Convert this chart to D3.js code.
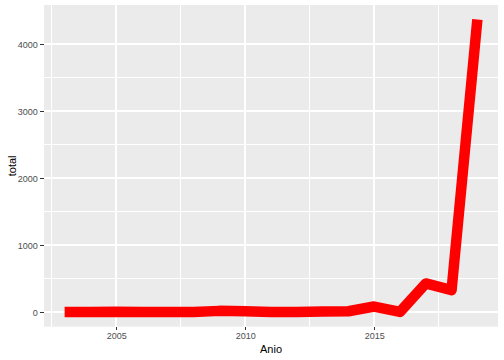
<!DOCTYPE html>
<html>
<head>
<meta charset="utf-8">
<script src="https://cdn.jsdelivr.net/npm/d3@7"></script>
<style>
  html, body { margin: 0; padding: 0; background: #ffffff; }
  svg { display: block; }
</style>
</head>
<body>
<svg id="chart" width="504" height="360"></svg>
<script>
// Data
const years  = [2003, 2004, 2005, 2006, 2007, 2008, 2009, 2010, 2011, 2012, 2013, 2014, 2015, 2016, 2017, 2018, 2019];
const totals = [2, 3, 8, 3, 4, 4, 20, 15, 3, 2, 12, 14, 85, 5, 430, 330, 4370];
const xTicks = [2005, 2010, 2015];
const xMinor = [2002.5, 2007.5, 2012.5, 2017.5];
const yTicks = [0, 1000, 2000, 3000, 4000];
const yMinor = [500, 1500, 2500, 3500];
const xTitle = "Anio";
const yTitle = "total";

const svg = d3.select("#chart");
const pLeft = 44, pRight = 498, pTop = 5, pBottom = 326.7;

const xMin = d3.min(years), xMax = d3.max(years);
const xPad = (xMax - xMin) * 0.05;
const x = d3.scaleLinear().domain([xMin - xPad, xMax + xPad]).range([pLeft, pRight]);

const yMin = d3.min(totals), yMax = d3.max(totals);
const yPad = (yMax - yMin) * 0.05;
const y = d3.scaleLinear().domain([yMin - yPad, yMax + yPad]).range([pBottom, pTop]);

// panel
svg.append("rect").attr("x", pLeft).attr("y", pTop)
  .attr("width", pRight - pLeft).attr("height", pBottom - pTop).attr("fill", "#EBEBEB");

const grid = svg.append("g").attr("shape-rendering", "crispEdges");
grid.selectAll(".yminor").data(yMinor).enter().append("line")
  .attr("x1", pLeft).attr("x2", pRight).attr("y1", d => y(d)).attr("y2", d => y(d))
  .attr("stroke", "#fff").attr("stroke-width", 1);
grid.selectAll(".xminor").data(xMinor).enter().append("line")
  .attr("y1", pTop).attr("y2", pBottom).attr("x1", d => x(d)).attr("x2", d => x(d))
  .attr("stroke", "#fff").attr("stroke-width", 1);
grid.selectAll(".ymajor").data(yTicks).enter().append("line")
  .attr("x1", pLeft).attr("x2", pRight).attr("y1", d => y(d)).attr("y2", d => y(d))
  .attr("stroke", "#fff").attr("stroke-width", 2);
grid.selectAll(".xmajor").data(xTicks).enter().append("line")
  .attr("y1", pTop).attr("y2", pBottom).attr("x1", d => x(d)).attr("x2", d => x(d))
  .attr("stroke", "#fff").attr("stroke-width", 2);

// line
const line = d3.line().x((d, i) => x(years[i])).y(d => y(d));
svg.append("path").datum(totals)
  .attr("d", line)
  .attr("fill", "none")
  .attr("stroke", "#FF0000")
  .attr("stroke-width", 10.5)
  .attr("stroke-linejoin", "round")
  .attr("stroke-linecap", "butt");

// axes
const xAxis = d3.axisBottom(x).tickValues(xTicks).tickFormat(d3.format("d")).tickSize(3.7).tickPadding(2.5);
const gx = svg.append("g").attr("transform", `translate(0,${pBottom})`).call(xAxis);
const yAxis = d3.axisLeft(y).tickValues(yTicks).tickFormat(d3.format("d")).tickSize(3.7).tickPadding(2.5);
const gy = svg.append("g").attr("transform", `translate(${pLeft},0)`).call(yAxis);

[gx, gy].forEach(g => {
  g.select(".domain").remove();
  g.selectAll(".tick line").attr("stroke", "#333333").attr("stroke-width", 1).attr("shape-rendering", "crispEdges");
  g.selectAll(".tick text").attr("fill", "#4D4D4D")
    .style("font-family", "'Liberation Sans', Arial, sans-serif").style("font-size", "9px");
});

svg.append("text").attr("x", (pLeft + pRight) / 2).attr("y", 352.5)
  .attr("text-anchor", "middle").attr("fill", "#000")
  .style("font-family", "'Liberation Sans', Arial, sans-serif").style("font-size", "11px")
  .text(xTitle);

svg.append("text").attr("transform", `translate(15.5,${(pTop + pBottom) / 2}) rotate(-90)`)
  .attr("text-anchor", "middle").attr("fill", "#000")
  .style("font-family", "'Liberation Sans', Arial, sans-serif").style("font-size", "11px")
  .text(yTitle);
</script>
</body>
</html>
